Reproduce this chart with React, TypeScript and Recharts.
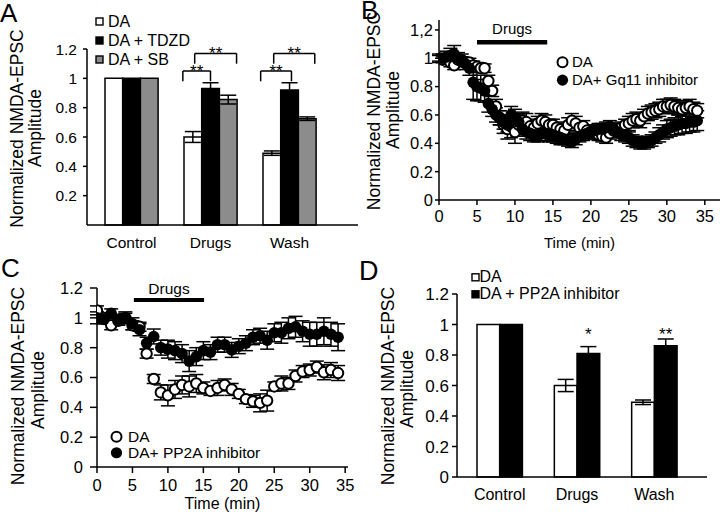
import React from 'react';
import {
  ComposedChart,
  ScatterChart,
  Scatter,
  Bar,
  XAxis,
  YAxis,
  ErrorBar,
  ReferenceLine,
  ReferenceDot,
  Legend,
} from 'recharts';

const FONT = '"Liberation Sans", Arial, Helvetica, sans-serif';

// ---------- Panel A ----------
const categories = ['Control', 'Drugs', 'Wash'];
const categoryPos = [0, 1, 2];
const aDA = [1, 0.6, 0.49];
const aDAErr = [0, 0.037, 0.015];
const aTDZD = [1, 0.93, 0.92];
const aTDZDErr = [0, 0.04, 0.05];
const aSB = [1, 0.855, 0.725];
const aSBErr = [0, 0.03, 0.012];
const aYTicks = [0.2, 0.4, 0.6, 0.8, 1, 1.2];
// significance brackets: category index, span (in category units), heights
const aBrackets = [
  { cat: 1, from: -0.35, to: 0.0, top: 1.05, leg: 0.98, label: '**' },
  { cat: 1, from: -0.2, to: 0.33, top: 1.17, leg: 1.1, label: '**' },
  { cat: 2, from: -0.365, to: 0.025, top: 1.05, leg: 0.98, label: '**' },
  { cat: 2, from: -0.2, to: 0.32, top: 1.17, leg: 1.1, label: '**' },
];

// ---------- Panel D ----------
const dDA = [1, 0.6, 0.49];
const dDAErr = [0, 0.04, 0.015];
const dPP2A = [1, 0.81, 0.86];
const dPP2AErr = [0, 0.045, 0.045];
const dStars = ['', '*', '**'];
const dStarLevel = 0.94;

// ---------- Panel B ----------
const bTime = [
  0, 0.5, 1, 1.5, 2, 2.5, 3, 3.5, 4, 4.5,
  5, 5.5, 6, 6.5, 7, 7.5, 8, 8.5, 9, 9.5,
  10, 10.5, 11, 11.5, 12, 12.5, 13, 13.5, 14, 14.5,
  15, 15.5, 16, 16.5, 17, 17.5, 18, 18.5, 19, 19.5,
  20, 20.5, 21, 21.5, 22, 22.5, 23, 23.5, 24, 24.5,
  25, 25.5, 26, 26.5, 27, 27.5, 28, 28.5, 29, 29.5,
  30, 30.5, 31, 31.5, 32, 32.5, 33, 33.5, 34,
];
const bDA = [
  1.0, 0.99, 1.0, 0.97, 0.95, 0.99, 0.98, 0.97, 0.97, 0.95,
  0.94, 0.93, 0.93, 0.84, 0.77, 0.66, 0.58, 0.53, 0.5, 0.52,
  0.48, 0.53, 0.56, 0.55, 0.52, 0.51, 0.54, 0.56, 0.55, 0.53,
  0.53, 0.51, 0.5, 0.49, 0.53, 0.56, 0.54, 0.51, 0.52, 0.49,
  0.48, 0.47, 0.46, 0.45, 0.44, 0.47, 0.49, 0.5, 0.51, 0.53,
  0.54, 0.56, 0.57, 0.56, 0.59, 0.61, 0.62, 0.63, 0.64, 0.66,
  0.66, 0.67, 0.66, 0.65, 0.64, 0.65, 0.66, 0.64, 0.63,
];
const bDAErr = [
  0.02, 0.02, 0.03, 0.03, 0.03, 0.03, 0.03, 0.03, 0.03, 0.03,
  0.03, 0.03, 0.03, 0.04, 0.04, 0.05, 0.05, 0.06, 0.07, 0.08,
  0.08, 0.07, 0.06, 0.06, 0.05, 0.05, 0.05, 0.05, 0.05, 0.04,
  0.04, 0.04, 0.04, 0.05, 0.05, 0.05, 0.05, 0.04, 0.04, 0.04,
  0.04, 0.04, 0.04, 0.04, 0.04, 0.04, 0.04, 0.04, 0.04, 0.04,
  0.05, 0.05, 0.05, 0.05, 0.05, 0.05, 0.05, 0.05, 0.05, 0.05,
  0.05, 0.05, 0.05, 0.05, 0.05, 0.05, 0.05, 0.05, 0.05,
];
const bGq = [
  1.0, 1.0, 1.01, 1.02, 1.03, 1.0, 0.99, 0.96, 0.93, 0.83,
  0.8, 0.79, 0.77, 0.68, 0.64, 0.6, 0.58, 0.55, 0.53, 0.6,
  0.58, 0.55, 0.5, 0.48, 0.47, 0.46, 0.46, 0.47, 0.47, 0.46,
  0.46, 0.45, 0.44, 0.43, 0.42, 0.41, 0.43, 0.45, 0.46, 0.47,
  0.48, 0.49, 0.5, 0.5, 0.51, 0.52, 0.5, 0.48, 0.46, 0.45,
  0.44, 0.42, 0.41, 0.4, 0.4, 0.41, 0.42, 0.44, 0.46, 0.48,
  0.5, 0.51, 0.52, 0.53, 0.54, 0.54, 0.55, 0.55, 0.56,
];
const bGqErr = [
  0.03, 0.03, 0.04, 0.05, 0.06, 0.04, 0.04, 0.04, 0.05, 0.12,
  0.1, 0.09, 0.08, 0.06, 0.05, 0.05, 0.05, 0.05, 0.05, 0.06,
  0.06, 0.06, 0.05, 0.05, 0.05, 0.05, 0.05, 0.05, 0.05, 0.05,
  0.05, 0.05, 0.05, 0.04, 0.04, 0.04, 0.04, 0.04, 0.04, 0.04,
  0.04, 0.04, 0.04, 0.04, 0.04, 0.04, 0.04, 0.04, 0.04, 0.04,
  0.04, 0.04, 0.04, 0.04, 0.04, 0.04, 0.04, 0.04, 0.05, 0.05,
  0.06, 0.06, 0.06, 0.07, 0.07, 0.07, 0.07, 0.07, 0.07,
];
const bDrugs = { start: 5, end: 14.25, level: 1.113 };

// ---------- Panel C ----------
const cTime = [
  0, 1, 2, 3, 4, 5, 6, 7, 8, 9,
  10, 11, 12, 13, 14, 15, 16, 17, 18, 19,
  20, 21, 22, 23, 24, 25, 26, 27, 28, 29,
  30, 31, 32, 33, 34,
];
const cDA = [
  1.05, 1.0, 0.95, 0.98, 1.0, 0.95, 0.94, 0.76, 0.59, 0.5,
  0.48, 0.52, 0.55, 0.54, 0.56, 0.53, 0.51, 0.53, 0.55, 0.52,
  0.49, 0.455, 0.44, 0.43, 0.445, 0.54, 0.56, 0.56, 0.61, 0.64,
  0.65, 0.67, 0.635, 0.65, 0.63,
];
const cDAErr = [
  0.03, 0.03, 0.03, 0.03, 0.03, 0.03, 0.03, 0.03, 0.03, 0.05,
  0.07, 0.06, 0.06, 0.07, 0.06, 0.04, 0.03, 0.05, 0.04, 0.04,
  0.03, 0.03, 0.04, 0.06, 0.07, 0.03, 0.05, 0.04, 0.04, 0.04,
  0.04, 0.04, 0.05, 0.05, 0.05,
];
const cPP2A = [
  1.0, 0.99, 1.03, 0.99, 1.0, 0.96, 0.92, 0.83, 0.875, 0.8,
  0.79, 0.78, 0.76, 0.71, 0.74, 0.78, 0.77, 0.82, 0.82, 0.785,
  0.81, 0.83, 0.87, 0.88, 0.85, 0.9, 0.9, 0.93, 0.94, 0.91,
  0.89, 0.89, 0.91, 0.89, 0.87,
];
const cPP2AErr = [
  0.04, 0.03, 0.03, 0.03, 0.04, 0.04, 0.04, 0.04, 0.05, 0.05,
  0.06, 0.06, 0.06, 0.07, 0.06, 0.06, 0.05, 0.05, 0.05, 0.05,
  0.05, 0.05, 0.05, 0.05, 0.06, 0.06, 0.07, 0.07, 0.07, 0.07,
  0.08, 0.08, 0.09, 0.08, 0.09,
];
const cDrugs = { start: 5.2, end: 15.1, level: 1.119 };

const timeTicks = [0, 5, 10, 15, 20, 25, 30, 35];
const yTicks = [0, 0.2, 0.4, 0.6, 0.8, 1, 1.2];

// ---------- helpers ----------
const axisStyle = { stroke: '#000', strokeWidth: 1.5 };
const tickFont = (fs: number) => ({ fontSize: fs, fill: '#000', fontFamily: FONT });

const yLabel = (x1: number, cy1: number, x2: number, cy2: number, fs: number) => () => (
  <g>
    <text
      x={x1}
      y={cy1}
      transform={`rotate(-90 ${x1} ${cy1})`}
      textAnchor="middle"
      dominantBaseline="central"
      fontSize={fs}
      fontFamily={FONT}
      fill="#000"
    >
      Normalized NMDA-EPSC
    </text>
    <text
      x={x2}
      y={cy2}
      transform={`rotate(-90 ${x2} ${cy2})`}
      textAnchor="middle"
      dominantBaseline="central"
      fontSize={fs}
      fontFamily={FONT}
      fill="#000"
    >
      Amplitude
    </text>
  </g>
);

const timeLabel = (dy: number, fs: number) => (props: any) => {
  const vb = props.viewBox || {};
  return (
    <text
      x={vb.x + vb.width / 2}
      y={vb.y + dy}
      textAnchor="middle"
      fontSize={fs}
      fontFamily={FONT}
      fill="#000"
    >
      Time (min)
    </text>
  );
};

type MarkerKind = 'sqWhite' | 'sqBlack' | 'sqGray' | 'circOpen' | 'circFilled';
const marker = (kind: MarkerKind, rowH: number, size: number) => {
  const c = rowH / 2;
  switch (kind) {
    case 'sqWhite':
      return <rect x={3} y={c - size / 2} width={size} height={size} fill="#fff" stroke="#000" strokeWidth={1.4} />;
    case 'sqBlack':
      return <rect x={3} y={c - size / 2} width={size} height={size} fill="#000" stroke="#000" strokeWidth={1.4} />;
    case 'sqGray':
      return <rect x={3} y={c - size / 2} width={size} height={size} fill="#8c8c8c" stroke="#000" strokeWidth={1.4} />;
    case 'circOpen':
      return <circle cx={6.5} cy={c} r={size} fill="#fff" stroke="#000" strokeWidth={2} />;
    default:
      return <circle cx={6.5} cy={c} r={size + 0.6} fill="#000" />;
  }
};

const legendContent =
  (order: string[], kinds: MarkerKind[], fs: number, rowH: number, markerW: number, size: number) =>
  (props: any) => {
    const payload = [...(props.payload || [])].sort(
      (a: any, b: any) => order.indexOf(a.value) - order.indexOf(b.value)
    );
    return (
      <div style={{ fontFamily: FONT, fontSize: fs, color: '#000' }}>
        {payload.map((p: any) => (
          <div
            key={p.value}
            style={{ display: 'flex', alignItems: 'center', height: rowH, whiteSpace: 'nowrap' }}
          >
            <svg width={markerW} height={rowH} style={{ display: 'block', flex: 'none' }}>
              {marker(kinds[order.indexOf(p.value)], rowH, size)}
            </svg>
            <span style={{ lineHeight: `${rowH}px` }}>{p.value}</span>
          </div>
        ))}
      </div>
    );
  };

const OpenDot = (p: any) => <circle cx={p.cx} cy={p.cy} r={5.2} fill="#fff" stroke="#000" strokeWidth={2} />;
const FilledDot = (p: any) => <circle cx={p.cx} cy={p.cy} r={5.8} fill="#000" />;

// ---------- Panels ----------
function PanelA() {
  const data = categories.map((c, i) => ({
    pos: categoryPos[i],
    cat: c,
    da: aDA[i],
    daE: aDAErr[i],
    tdzd: aTDZD[i],
    tdzdE: aTDZDErr[i],
    sb: aSB[i],
    sbE: aSBErr[i],
  }));
  return (
    <ComposedChart
      width={360}
      height={258}
      data={data}
      margin={{ top: 49, right: 2, bottom: 7, left: 0 }}
      barGap={0}
    >
      <XAxis
        dataKey="pos"
        type="number"
        domain={[-0.5633, 2.8671]}
        allowDataOverflow
        ticks={categoryPos}
        tickFormatter={(v: number) => categories[v] ?? ''}
        interval={0}
        height={26}
        axisLine={axisStyle}
        tickLine={false}
        tickSize={5}
        tickMargin={7}
        tick={tickFont(15.5)}
      />
      <YAxis
        width={87}
        type="number"
        domain={[0, 1.2]}
        ticks={aYTicks}
        axisLine={axisStyle}
        tickLine={axisStyle}
        tickSize={4}
        tickMargin={6}
        tick={tickFont(15.5)}
        label={yLabel(16.7, 128.5, 35, 128, 17.5)}
      />
      <Bar dataKey="da" name="DA" barSize={17.7} fill="#fff" stroke="#000" strokeWidth={1.5} isAnimationActive={false}>
        <ErrorBar dataKey="daE" direction="y" width={8} stroke="#000" strokeWidth={1.5} />
      </Bar>
      <Bar dataKey="tdzd" name="DA + TDZD" barSize={17.7} fill="#000" stroke="#000" strokeWidth={1.5} isAnimationActive={false}>
        <ErrorBar dataKey="tdzdE" direction="y" width={8} stroke="#000" strokeWidth={1.5} />
      </Bar>
      <Bar dataKey="sb" name="DA + SB" barSize={17.7} fill="#8c8c8c" stroke="#000" strokeWidth={1.5} isAnimationActive={false}>
        <ErrorBar dataKey="sbE" direction="y" width={8} stroke="#000" strokeWidth={1.5} />
      </Bar>
      {aBrackets.map((b, i) => (
        <ReferenceLine
          key={`bl${i}`}
          ifOverflow="visible"
          stroke="#000"
          strokeWidth={1.5}
          segment={[
            { x: b.cat + b.from, y: b.leg },
            { x: b.cat + b.from, y: b.top },
          ]}
        />
      ))}
      {aBrackets.map((b, i) => (
        <ReferenceLine
          key={`br${i}`}
          ifOverflow="visible"
          stroke="#000"
          strokeWidth={1.5}
          segment={[
            { x: b.cat + b.to, y: b.leg },
            { x: b.cat + b.to, y: b.top },
          ]}
        />
      ))}
      {aBrackets.map((b, i) => (
        <ReferenceLine
          key={`bt${i}`}
          ifOverflow="visible"
          stroke="#000"
          strokeWidth={1.5}
          segment={[
            { x: b.cat + b.from, y: b.top },
            { x: b.cat + b.to, y: b.top },
          ]}
          label={{ value: b.label, position: 'top', offset: -6, fontSize: 17, fill: '#000', fontFamily: FONT }}
        />
      ))}
      <Legend
        layout="vertical"
        align="center"
        verticalAlign="middle"
        wrapperStyle={{ left: 93, top: 11.5, width: 'auto' }}
        content={legendContent(['DA', 'DA + TDZD', 'DA + SB'], ['sqWhite', 'sqBlack', 'sqGray'], 16, 19, 15, 7)}
      />
    </ComposedChart>
  );
}

function PanelB() {
  const da = bTime.map((t, i) => ({ t, v: bDA[i], e: bDAErr[i] }));
  const gq = bTime.map((t, i) => ({ t, v: bGq[i], e: bGqErr[i] }));
  return (
    <ScatterChart width={360} height={258} margin={{ top: 20, right: 0, bottom: 8, left: 0 }}>
      <XAxis
        type="number"
        dataKey="t"
        domain={[0, 37]}
        ticks={timeTicks}
        allowDataOverflow
        height={50}
        axisLine={axisStyle}
        tickLine={axisStyle}
        tickSize={5}
        tickMargin={5}
        tick={tickFont(16.5)}
        label={timeLabel(48, 15)}
      />
      <YAxis
        type="number"
        dataKey="v"
        width={79}
        domain={[0, 1.27]}
        ticks={yTicks}
        allowDataOverflow
        axisLine={axisStyle}
        tickLine={axisStyle}
        tickSize={4}
        tickMargin={2}
        tick={tickFont(16.5)}
        tickFormatter={(v: number) => (v === 1.2 ? '1,2' : String(v))}
        label={yLabel(14, 111, 33.3, 110, 17.5)}
      />
      <ReferenceLine
        ifOverflow="visible"
        stroke="#000"
        strokeWidth={4.5}
        segment={[
          { x: bDrugs.start, y: bDrugs.level },
          { x: bDrugs.end, y: bDrugs.level },
        ]}
        label={{ value: 'Drugs', position: 'top', offset: 8, fontSize: 15, fill: '#000', fontFamily: FONT }}
      />
      <Scatter name="DA" data={da} shape={OpenDot} isAnimationActive={false}>
        <ErrorBar dataKey="e" direction="y" width={7} stroke="#000" strokeWidth={1.5} />
      </Scatter>
      <Scatter name="DA+ Gq11 inhibitor" data={gq} shape={FilledDot} isAnimationActive={false}>
        <ErrorBar dataKey="e" direction="y" width={7} stroke="#000" strokeWidth={1.5} />
      </Scatter>
      <Legend
        layout="vertical"
        align="center"
        verticalAlign="middle"
        wrapperStyle={{ left: 196, top: 52.5, width: 'auto' }}
        content={legendContent(['DA', 'DA+ Gq11 inhibitor'], ['circOpen', 'circFilled'], 15, 18.3, 16, 5)}
      />
    </ScatterChart>
  );
}

function PanelC() {
  const da = cTime.map((t, i) => ({ t, v: cDA[i], e: cDAErr[i] }));
  const pp = cTime.map((t, i) => ({ t, v: cPP2A[i], e: cPP2AErr[i] }));
  return (
    <ScatterChart width={360} height={262} margin={{ top: 33, right: 12, bottom: 5, left: 0 }}>
      <XAxis
        type="number"
        dataKey="t"
        domain={[0, 35.4]}
        ticks={timeTicks}
        allowDataOverflow
        height={45}
        axisLine={axisStyle}
        tickLine={axisStyle}
        tickSize={6}
        tickMargin={6}
        tick={tickFont(16.5)}
        label={timeLabel(42, 16)}
      />
      <YAxis
        type="number"
        dataKey="v"
        width={97}
        domain={[0, 1.2]}
        ticks={yTicks}
        allowDataOverflow
        axisLine={axisStyle}
        tickLine={axisStyle}
        tickSize={7}
        tickMargin={7}
        tick={tickFont(16.5)}
        label={yLabel(18, 131, 38, 135, 17.5)}
      />
      <ReferenceLine
        ifOverflow="visible"
        stroke="#000"
        strokeWidth={4}
        segment={[
          { x: cDrugs.start, y: cDrugs.level },
          { x: cDrugs.end, y: cDrugs.level },
        ]}
        label={{ value: 'Drugs', position: 'top', offset: 6, fontSize: 15.5, fill: '#000', fontFamily: FONT }}
      />
      <Scatter name="DA" data={da} shape={OpenDot} isAnimationActive={false}>
        <ErrorBar dataKey="e" direction="y" width={7} stroke="#000" strokeWidth={1.5} />
      </Scatter>
      <Scatter name="DA+ PP2A inhibitor" data={pp} shape={FilledDot} isAnimationActive={false}>
        <ErrorBar dataKey="e" direction="y" width={7} stroke="#000" strokeWidth={1.5} />
      </Scatter>
      <Legend
        layout="vertical"
        align="center"
        verticalAlign="middle"
        wrapperStyle={{ left: 110, top: 174, width: 'auto' }}
        content={legendContent(['DA', 'DA+ PP2A inhibitor'], ['circOpen', 'circFilled'], 15.5, 15.5, 18, 5)}
      />
    </ScatterChart>
  );
}

function PanelD() {
  const data = categories.map((c, i) => ({
    pos: categoryPos[i],
    cat: c,
    da: dDA[i],
    daE: dDAErr[i],
    pp: dPP2A[i],
    ppE: dPP2AErr[i],
  }));
  return (
    <ComposedChart
      width={360}
      height={262}
      data={data}
      margin={{ top: 39, right: 13, bottom: 10, left: 0 }}
      barGap={0}
    >
      <XAxis
        dataKey="pos"
        type="number"
        domain={[-0.5518, 2.6811]}
        allowDataOverflow
        ticks={categoryPos}
        tickFormatter={(v: number) => categories[v] ?? ''}
        interval={0}
        height={30}
        axisLine={axisStyle}
        tickLine={false}
        tickSize={5}
        tickMargin={7}
        tick={tickFont(16)}
      />
      <YAxis
        width={97}
        type="number"
        domain={[0, 1.2]}
        ticks={yTicks}
        axisLine={axisStyle}
        tickLine={axisStyle}
        tickSize={5}
        tickMargin={3}
        tick={tickFont(17)}
        label={yLabel(28, 131, 46.7, 134, 17.5)}
      />
      <Bar dataKey="da" name="DA" barSize={22.7} fill="#fff" stroke="#000" strokeWidth={1.5} isAnimationActive={false}>
        <ErrorBar dataKey="daE" direction="y" width={8} stroke="#000" strokeWidth={1.5} />
      </Bar>
      <Bar dataKey="pp" name="DA + PP2A inhibitor" barSize={22.7} fill="#000" stroke="#000" strokeWidth={1.5} isAnimationActive={false}>
        <ErrorBar dataKey="ppE" direction="y" width={8} stroke="#000" strokeWidth={1.5} />
      </Bar>
      {dStars.map((s, i) =>
        s ? (
          <ReferenceDot
            key={`s${i}`}
            x={categoryPos[i] + 0.1466}
            y={dStarLevel}
            r={0}
            fill="none"
            stroke="none"
            ifOverflow="visible"
            label={{ value: s, position: 'center', fontSize: 17, fill: '#000', fontFamily: FONT }}
          />
        ) : null
      )}
      <Legend
        layout="vertical"
        align="center"
        verticalAlign="middle"
        wrapperStyle={{ left: 108.5, top: 14.4, width: 'auto' }}
        content={legendContent(['DA', 'DA + PP2A inhibitor'], ['sqWhite', 'sqBlack'], 16, 16.6, 11, 7)}
      />
    </ComposedChart>
  );
}

export default function App() {
  return (
    <div
      style={{
        position: 'absolute',
        left: 0,
        top: 0,
        width: 720,
        height: 517,
        background: '#fff',
        overflow: 'hidden',
        fontFamily: FONT,
      }}
    >
      <div style={{ position: 'absolute', left: 0, top: 0 }}>
        <PanelA />
      </div>
      <div style={{ position: 'absolute', left: 360, top: 0 }}>
        <PanelB />
      </div>
      <div style={{ position: 'absolute', left: 0, top: 255 }}>
        <PanelC />
      </div>
      <div style={{ position: 'absolute', left: 360, top: 255 }}>
        <PanelD />
      </div>
      <svg
        width={720}
        height={517}
        style={{ position: 'absolute', left: 0, top: 0, pointerEvents: 'none' }}
      >
        <text x={0} y={21.5} fontSize={26} fontFamily={FONT} fill="#000">A</text>
        <text x={361} y={18.5} fontSize={26} fontFamily={FONT} fill="#000">B</text>
        <text x={1} y={276.5} fontSize={26} fontFamily={FONT} fill="#000">C</text>
        <text x={359} y={280} fontSize={27} fontFamily={FONT} fill="#000">D</text>
      </svg>
    </div>
  );
}
